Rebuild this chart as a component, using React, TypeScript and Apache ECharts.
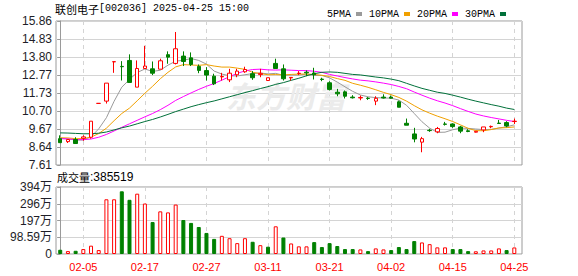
import React, { useEffect, useRef } from "react";
import * as echarts from "echarts";

const dates = ["01-23","01-24","01-27","02-05","02-06","02-07","02-10","02-11","02-12","02-13","02-14","02-17","02-18","02-19","02-20","02-21","02-24","02-25","02-26","02-27","02-28","03-03","03-04","03-05","03-06","03-07","03-10","03-11","03-12","03-13","03-14","03-17","03-18","03-19","03-20","03-21","03-24","03-25","03-26","03-27","03-28","03-31","04-01","04-02","04-03","04-07","04-08","04-09","04-10","04-11","04-14","04-15","04-16","04-17","04-18","04-21","04-22","04-23","04-24","04-25"];

const opens = [9.12,8.95,9.07,9.14,9.20,11.14,11.27,13.52,13.26,13.60,12.07,13.14,13.12,13.10,13.93,13.43,13.85,13.75,13.26,13.02,12.70,12.66,12.49,12.78,12.95,12.84,12.79,12.45,13.43,13.12,12.60,12.85,12.93,12.88,12.53,12.32,11.78,11.80,11.50,11.45,11.44,11.27,11.50,11.50,11.23,10.00,9.39,8.92,9.60,9.51,9.96,9.96,9.79,9.57,9.49,9.62,9.80,10.01,10.04,10.10];
const closes = [8.89,9.07,8.84,9.22,10.12,11.14,12.30,13.53,13.24,12.34,13.14,13.28,12.87,13.58,13.79,14.27,13.54,13.37,13.03,12.76,12.26,12.68,12.87,12.99,13.08,12.61,12.86,12.61,13.14,12.55,12.63,12.87,12.89,12.78,12.51,11.94,11.69,11.55,11.46,11.48,11.42,11.43,11.45,11.44,10.92,9.89,9.10,9.12,9.58,9.70,9.94,9.81,9.55,9.53,9.54,9.79,9.82,9.99,9.85,10.12];
const lows = [8.89,8.87,8.84,9.00,9.12,11.14,11.13,12.89,12.45,12.34,12.07,13.14,12.76,13.10,13.41,13.37,13.28,13.28,12.87,12.45,12.19,12.45,12.36,12.64,12.89,12.49,12.64,12.45,13.14,12.45,12.45,12.76,12.70,12.51,12.41,11.88,11.55,11.42,11.42,11.32,11.34,11.04,11.42,11.42,10.92,9.89,8.91,8.34,9.51,9.43,9.87,9.74,9.43,9.49,9.47,9.49,9.72,9.99,9.77,9.96];
const highs = [9.31,9.07,9.20,9.31,10.12,11.14,12.30,13.53,13.56,13.95,13.60,14.44,13.54,13.70,14.12,15.23,14.12,14.06,13.37,13.22,12.84,12.89,13.12,13.12,13.24,12.99,13.12,12.61,13.70,13.37,12.64,12.99,13.03,13.18,12.61,12.41,11.97,11.88,11.61,11.59,11.50,11.55,11.66,11.59,11.30,10.27,9.74,9.22,9.68,9.79,10.08,10.00,9.85,9.66,9.55,9.79,9.87,10.19,10.12,10.27];
const prevCloseBefore = 9.10;

const volumes = [250000,170000,190000,290000,490000,230000,3220000,3220000,3690000,3190000,3550000,2970000,1880000,2510000,2450000,2910000,2000000,1830000,1590000,1240000,890000,1070000,930000,640000,930000,720000,520000,430000,1630000,970000,620000,450000,450000,700000,410000,640000,470000,290000,290000,270000,170000,330000,270000,230000,410000,290000,760000,680000,580000,390000,390000,290000,290000,170000,160000,210000,210000,330000,230000,385519];

const ma5 = [9.14,9.11,9.04,9.04,9.23,9.68,10.32,11.26,12.07,12.51,12.91,13.11,12.97,13.04,13.33,13.56,13.61,13.71,13.60,13.39,12.99,12.82,12.72,12.71,12.78,12.85,12.88,12.83,12.86,12.75,12.76,12.76,12.82,12.74,12.74,12.60,12.36,12.09,11.83,11.62,11.52,11.47,11.45,11.44,11.33,11.03,10.56,10.09,9.72,9.48,9.49,9.63,9.72,9.71,9.67,9.64,9.65,9.73,9.80,9.91];
const ma10 = [9.17,9.16,9.12,9.12,9.21,9.41,9.72,10.15,10.56,10.87,11.29,11.72,12.12,12.55,12.92,13.23,13.36,13.34,13.32,13.36,13.28,13.22,13.22,13.16,13.09,12.92,12.85,12.78,12.79,12.77,12.80,12.82,12.82,12.80,12.75,12.68,12.56,12.46,12.29,12.18,12.06,11.92,11.77,11.64,11.48,11.27,11.01,10.77,10.58,10.41,10.26,10.10,9.91,9.71,9.58,9.57,9.64,9.73,9.75,9.79];
const ma20 = [9.12,9.10,9.07,9.06,9.10,9.20,9.36,9.56,9.77,9.97,10.17,10.37,10.56,10.78,11.03,11.31,11.53,11.74,11.94,12.12,12.28,12.47,12.67,12.86,13.00,13.08,13.10,13.06,13.05,13.06,13.04,13.02,13.02,12.98,12.92,12.80,12.71,12.62,12.54,12.47,12.43,12.37,12.30,12.22,12.11,11.98,11.79,11.61,11.44,11.29,11.16,11.01,10.84,10.68,10.53,10.42,10.33,10.25,10.17,10.10];
const ma30 = [9.45,9.44,9.42,9.40,9.40,9.43,9.50,9.62,9.74,9.84,9.97,10.10,10.22,10.36,10.51,10.67,10.81,10.95,11.07,11.18,11.28,11.40,11.52,11.64,11.76,11.87,11.99,12.10,12.23,12.33,12.46,12.58,12.72,12.84,12.92,12.94,12.92,12.86,12.80,12.77,12.71,12.65,12.60,12.53,12.44,12.29,12.14,12.00,11.89,11.78,11.71,11.61,11.50,11.38,11.27,11.17,11.07,10.98,10.87,10.79];

const maNames = ["5PMA", "10PMA", "20PMA", "30PMA"];
const maColors = ["#9a9a9a", "#f0a000", "#ff00ff", "#00703a"];

const priceTicks = [7.61, 8.64, 9.67, 10.70, 11.73, 12.77, 13.80, 14.83, 15.86];
const volTicks = [0, 985900, 1971800, 2957700, 3943600];
const volTickLabels = ["0", "98.59万", "197万", "296万", "394万"];
const dateTicks = ["02-05", "02-17", "02-27", "03-11", "03-21", "04-02", "04-15", "04-25"];

const stockName = "联创电子";
const stockInfo = "[002036] 2025-04-25 15:00";
const volTitle = "成交量";
const watermark = "东方财富";

const UP = "#ff0000";
const DOWN = "#008000";
const GRID_BORDER = "#9a9a9a";
const SPLIT = "#d4d4d4";
const LABEL = "#1e1e28";

export default function App() {
  const ref = useRef<HTMLDivElement>(null);
  useEffect(() => {
    if (!ref.current) return;
    const chart = echarts.init(ref.current, null, { renderer: "svg" });
    const tickIdx = dateTicks.map((d) => dates.indexOf(d));
    const candleData = dates.map((_, i) => [i, opens[i], closes[i], lows[i], highs[i]]);
    const volData = volumes.map((v, i) => {
      const pc = i === 0 ? prevCloseBefore : closes[i - 1];
      const up = closes[i] > pc;
      return {
        value: [i, v],
        itemStyle: up
          ? { color: "#ffffff", borderColor: UP, borderWidth: 1 }
          : { color: DOWN, borderColor: DOWN, borderWidth: 1 },
      };
    });
    const maArrays = [ma5, ma10, ma20, ma30];
    const xMin = -0.55;
    const xMax = 60;
    const fontSans = "'Liberation Sans', 'Noto Sans CJK SC', sans-serif";
    const xAxisCommon = {
      type: "value",
      min: xMin,
      max: xMax,
      axisLine: { show: false },
      axisTick: { show: false, customValues: tickIdx },
      splitLine: { show: true, lineStyle: { color: SPLIT, type: [4, 4], width: 1 } },
    };
    const option: any = {
      animation: false,
      backgroundColor: "#ffffff",
      title: {
        text: `{a|${stockName}}{b|${stockInfo}}`,
        left: 55,
        top: 3,
        padding: 0,
        textStyle: {
          fontWeight: "normal",
          rich: {
            a: { fontFamily: "'Noto Sans CJK SC'", fontSize: 11, fontWeight: "normal", color: "#000" },
            b: { fontFamily: "'Liberation Mono', monospace", fontSize: 10, fontWeight: "normal", color: "#000" },
          },
        },
      },
      legend: {
        data: maNames,
        right: 67,
        top: 4,
        align: "right",
        icon: "rect",
        itemWidth: 6,
        itemHeight: 4,
        itemGap: 7,
        textStyle: { fontFamily: "'Liberation Mono', monospace", fontSize: 10, color: "#000", padding: [0, 0, 0, 0] },
      },
      graphic: [
        {
          type: "text",
          left: 226,
          top: 80,
          z: 1,
          silent: true,
          style: {
            text: watermark,
            font: "italic bold 30px 'Noto Sans CJK SC'",
            fill: "#ebebeb",
          },
        },
        {
          type: "text",
          left: 57,
          top: 171,
          style: {
            text: `{a|${volTitle}}{b|:${volumes[volumes.length - 1]}}`,
            rich: {
              a: { fontFamily: "'Noto Sans CJK SC'", fontSize: 11, fill: "#000" },
              b: { fontFamily: "'Liberation Sans'", fontSize: 12, fill: "#000" },
            },
          },
        },
      ],
      grid: [
        { left: 56, top: 21, width: 466, height: 144, show: true, borderColor: GRID_BORDER, borderWidth: 1, backgroundColor: "transparent" },
        { left: 56, top: 187, width: 466, height: 67, show: true, borderColor: GRID_BORDER, borderWidth: 1, backgroundColor: "transparent" },
      ],
      xAxis: [
        { ...xAxisCommon, gridIndex: 0, axisLabel: { show: false, customValues: tickIdx } },
        {
          ...xAxisCommon,
          gridIndex: 1,
          axisLabel: {
            show: true,
            customValues: tickIdx,
            formatter: (v: number) => dates[Math.round(v)] ?? "",
            color: UP,
            fontFamily: fontSans,
            fontSize: 11,
            margin: 7,
          },
        },
      ],
      yAxis: [
        {
          type: "value",
          gridIndex: 0,
          min: priceTicks[0],
          max: priceTicks[priceTicks.length - 1],
          axisLine: { show: true, lineStyle: { color: GRID_BORDER } },
          axisTick: { show: true, length: 3, customValues: priceTicks, lineStyle: { color: GRID_BORDER } },
          axisLabel: {
            customValues: priceTicks,
            formatter: (v: number) => v.toFixed(2),
            color: LABEL,
            fontFamily: fontSans,
            fontSize: 12,
            margin: 4,
          },
          splitLine: { show: true, lineStyle: { color: SPLIT, width: 1 } },
        },
        {
          type: "value",
          gridIndex: 1,
          min: volTicks[0],
          max: volTicks[volTicks.length - 1],
          axisLine: { show: true, lineStyle: { color: GRID_BORDER } },
          axisTick: { show: true, length: 3, customValues: volTicks, lineStyle: { color: GRID_BORDER } },
          axisLabel: {
            customValues: volTicks,
            formatter: (v: number) => volTickLabels[volTicks.indexOf(v)] ?? "",
            color: LABEL,
            fontFamily: fontSans,
            fontSize: 12,
            margin: 4,
          },
          splitLine: { show: true, lineStyle: { color: SPLIT, width: 1 } },
        },
      ],
      series: [
        ...maArrays.map((arr, k) => ({
          name: maNames[k],
          type: "line",
          xAxisIndex: 0,
          yAxisIndex: 0,
          data: arr.map((v, i) => [i, v]),
          color: maColors[k],
          showSymbol: false,
          symbol: "none",
          lineStyle: { width: 1, color: maColors[k] },
          z: 3,
        })),
        {
          name: "K",
          type: "candlestick",
          xAxisIndex: 0,
          yAxisIndex: 0,
          data: candleData,
          barWidth: 4,
          z: 4,
          itemStyle: {
            color: "#ffffff",
            color0: DOWN,
            borderColor: UP,
            borderColor0: DOWN,
            borderColorDoji: UP,
            borderWidth: 1,
          },
        },
        {
          name: "VOL",
          type: "bar",
          xAxisIndex: 1,
          yAxisIndex: 1,
          data: volData,
          barWidth: 4,
          z: 4,
        },
      ],
    };
    chart.setOption(option);
    return () => chart.dispose();
  }, []);
  return (
    <div
      ref={ref}
      style={{ position: "fixed", left: 0, top: 0, width: 578, height: 276, background: "#fff" }}
    />
  );
}
